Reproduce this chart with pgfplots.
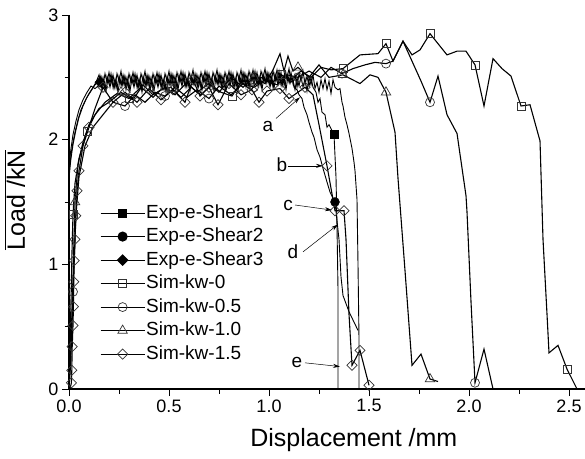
\documentclass[border=0pt]{standalone}
\usepackage{fontspec}
\setmainfont{Liberation Sans}
\usepackage{pgfplots}
\pgfplotsset{compat=1.18}
\usetikzlibrary{arrows.meta}

\tikzset{
  simline/.style={black, line width=1.1pt},
  expline/.style={black, line width=0.9pt},
  omark/.style={black!80, line width=0.7pt, solid, fill=white},
  fmark/.style={black, solid, fill=black},
  ann/.style={font=\fontsize{19}{22}\selectfont, inner sep=0pt},
  annarrow/.style={black, line width=0.5pt, -{Stealth[length=7pt,width=4pt]}},
}

\begin{document}
\begin{tikzpicture}
\begin{axis}[
  scale only axis,
  width=516pt, height=374pt,
  xmin=0, xmax=2.58, ymin=0, ymax=3,
  axis x line*=bottom, axis y line*=left,
  axis line style={line width=1.1pt},
  tick align=outside,
  major tick length=7pt, minor tick length=4.5pt,
  every tick/.style={black, line width=0.9pt},
  xtick={0,0.5,...,2.5}, minor x tick num=1,
  ytick={0,1,2,3}, minor y tick num=1,
  xticklabel style={/pgf/number format/fixed, /pgf/number format/fixed zerofill, /pgf/number format/precision=1},
  /pgf/number format/assume math mode=true,
  tick label style={font=\fontsize{18}{21}\selectfont},
  xlabel={Displacement /mm},
  ylabel={$\overline{\mbox{Load /kN}}$},
  label style={font=\fontsize{25}{29}\selectfont},
  xlabel style={at={(axis description cs:0.552,-0.136)}, anchor=center},
  ylabel style={at={(axis description cs:-0.105,0.505)}, anchor=center},
  clip=false,
  legend style={draw=none, fill=none, at={(0.054,0.503)}, anchor=north west,
    font=\fontsize{19}{22}\selectfont, row sep=3.5pt,
    nodes={inner sep=1pt, text height=14pt, text depth=4pt}},
  legend cell align=left,
  /tikz/every even column/.append style={column sep=5pt},
  legend image code/.code={\draw[mark repeat=2,mark phase=2] plot coordinates {(0pt,0pt) (22pt,0pt) (44pt,0pt)};},
]
\coordinate (sw) at (rel axis cs:0,0);

% ---- experiments (noisy records)
\addplot[expline, forget plot] coordinates {
(0,1.70) (0.005,1.80) (0.01,1.88) (0.02,1.98) (0.03,2.06) (0.045,2.16) (0.06,2.24) (0.08,2.31) (0.10,2.37) (0.12,2.42) (0.135,2.46)
(0.15,2.52) (0.16,2.43) (0.17,2.50) (0.18,2.40) (0.19,2.51) (0.20,2.45) (0.21,2.53) (0.22,2.42) (0.23,2.49) (0.24,2.41) (0.25,2.51) (0.26,2.44)
(0.27,2.52) (0.28,2.43) (0.29,2.50) (0.30,2.40) (0.31,2.51) (0.32,2.45) (0.33,2.53) (0.34,2.42) (0.35,2.49) (0.36,2.41) (0.37,2.51) (0.38,2.44)
(0.39,2.52) (0.40,2.43) (0.41,2.50) (0.42,2.40) (0.43,2.51) (0.44,2.45) (0.45,2.53) (0.46,2.42) (0.47,2.49) (0.48,2.41) (0.49,2.51) (0.50,2.44)
(0.51,2.53) (0.52,2.44) (0.53,2.51) (0.54,2.41) (0.55,2.52) (0.56,2.46) (0.57,2.54) (0.58,2.43) (0.59,2.50) (0.60,2.42) (0.61,2.52) (0.62,2.45)
(0.63,2.53) (0.64,2.44) (0.65,2.51) (0.66,2.41) (0.67,2.52) (0.68,2.46) (0.69,2.54) (0.70,2.43) (0.71,2.50) (0.72,2.42) (0.73,2.52) (0.74,2.45)
(0.75,2.53) (0.76,2.44) (0.77,2.51) (0.78,2.41) (0.79,2.52) (0.80,2.46) (0.81,2.54) (0.82,2.43) (0.83,2.50) (0.84,2.42) (0.85,2.52) (0.86,2.45)
(0.87,2.54) (0.88,2.45) (0.89,2.52) (0.90,2.42) (0.91,2.53) (0.92,2.47) (0.93,2.55) (0.94,2.44) (0.95,2.51) (0.96,2.43) (0.97,2.53) (0.98,2.46)
(0.99,2.54) (1.00,2.45) (1.01,2.52) (1.02,2.42) (1.03,2.53) (1.04,2.47) (1.05,2.55) (1.06,2.44) (1.07,2.51) (1.08,2.43) (1.09,2.53) (1.10,2.46)
(1.11,2.54) (1.12,2.45) (1.13,2.52) (1.14,2.42) (1.15,2.53) (1.16,2.47) (1.17,2.55) (1.18,2.44) (1.19,2.51) (1.20,2.43) (1.21,2.50) (1.22,2.42)
(1.235,2.38) (1.245,2.30) (1.255,2.33) (1.265,2.22) (1.28,2.20) (1.29,2.10) (1.30,2.12) (1.325,2.04) (1.335,1.7) (1.34,1.3) (1.345,0.8) (1.345,0)};
\addplot[expline, forget plot] coordinates {
(0,1.74) (0.005,1.86) (0.01,1.93) (0.02,2.04) (0.035,2.15) (0.05,2.24) (0.07,2.32) (0.09,2.38) (0.11,2.43) (0.13,2.41)
(0.145,2.43) (0.155,2.51) (0.165,2.40) (0.175,2.47) (0.185,2.39) (0.195,2.49) (0.205,2.42) (0.215,2.50) (0.225,2.41) (0.235,2.48) (0.245,2.38) (0.255,2.49)
(0.265,2.43) (0.275,2.51) (0.285,2.40) (0.295,2.47) (0.305,2.39) (0.315,2.49) (0.325,2.42) (0.335,2.50) (0.345,2.41) (0.355,2.48) (0.365,2.38) (0.375,2.49)
(0.385,2.43) (0.395,2.51) (0.405,2.40) (0.415,2.47) (0.425,2.39) (0.435,2.49) (0.445,2.42) (0.455,2.50) (0.465,2.41) (0.475,2.48) (0.485,2.38) (0.495,2.49)
(0.505,2.44) (0.515,2.52) (0.525,2.41) (0.535,2.48) (0.545,2.40) (0.555,2.50) (0.565,2.43) (0.575,2.51) (0.585,2.42) (0.595,2.49) (0.605,2.39) (0.615,2.50)
(0.625,2.44) (0.635,2.52) (0.645,2.41) (0.655,2.48) (0.665,2.40) (0.675,2.50) (0.685,2.43) (0.695,2.51) (0.705,2.42) (0.715,2.49) (0.725,2.39) (0.735,2.50)
(0.745,2.44) (0.755,2.52) (0.765,2.41) (0.775,2.48) (0.785,2.40) (0.795,2.50) (0.805,2.43) (0.815,2.51) (0.825,2.42) (0.835,2.49) (0.845,2.39) (0.855,2.50)
(0.865,2.45) (0.875,2.53) (0.885,2.42) (0.895,2.49) (0.905,2.41) (0.915,2.51) (0.925,2.44) (0.935,2.52) (0.945,2.43) (0.955,2.50) (0.965,2.40) (0.975,2.51)
(0.985,2.45) (0.995,2.53) (1.005,2.42) (1.015,2.49) (1.025,2.41) (1.035,2.51) (1.045,2.44) (1.055,2.52) (1.065,2.43) (1.075,2.50) (1.085,2.40) (1.095,2.51)
(1.105,2.45) (1.115,2.50) (1.125,2.42) (1.14,2.40) (1.15,2.36) (1.165,2.33) (1.175,2.26) (1.19,2.20) (1.2,2.14) (1.215,2.06) (1.225,2.02)
(1.24,1.92) (1.255,1.86) (1.27,1.77) (1.29,1.66) (1.305,1.58) (1.33,1.50) (1.35,1.2) (1.36,0.9) (1.37,0.75) (1.40,0.62) (1.43,0.52) (1.445,0.47)};
\addplot[expline, forget plot] coordinates {
(0,1.68) (0.005,1.78) (0.01,1.85) (0.02,1.96) (0.035,2.08) (0.05,2.18) (0.07,2.27) (0.09,2.34) (0.11,2.39) (0.13,2.44) (0.145,2.46)
(0.16,2.51) (0.17,2.43) (0.18,2.53) (0.19,2.46) (0.20,2.54) (0.21,2.45) (0.22,2.52) (0.23,2.42) (0.24,2.53) (0.25,2.47) (0.26,2.55) (0.27,2.44)
(0.28,2.51) (0.29,2.43) (0.30,2.53) (0.31,2.46) (0.32,2.54) (0.33,2.45) (0.34,2.52) (0.35,2.42) (0.36,2.53) (0.37,2.47) (0.38,2.55) (0.39,2.44)
(0.40,2.51) (0.41,2.43) (0.42,2.53) (0.43,2.46) (0.44,2.54) (0.45,2.45) (0.46,2.52) (0.47,2.42) (0.48,2.53) (0.49,2.47) (0.50,2.55) (0.51,2.44)
(0.52,2.52) (0.53,2.44) (0.54,2.54) (0.55,2.47) (0.56,2.55) (0.57,2.46) (0.58,2.53) (0.59,2.43) (0.60,2.54) (0.61,2.48) (0.62,2.56) (0.63,2.45)
(0.64,2.52) (0.65,2.44) (0.66,2.54) (0.67,2.47) (0.68,2.55) (0.69,2.46) (0.70,2.53) (0.71,2.43) (0.72,2.54) (0.73,2.48) (0.74,2.56) (0.75,2.45)
(0.76,2.52) (0.77,2.44) (0.78,2.54) (0.79,2.47) (0.80,2.55) (0.81,2.46) (0.82,2.53) (0.83,2.43) (0.84,2.54) (0.85,2.48) (0.86,2.56) (0.87,2.45)
(0.88,2.53) (0.89,2.45) (0.90,2.55) (0.91,2.48) (0.92,2.56) (0.93,2.47) (0.94,2.54) (0.95,2.44) (0.96,2.55) (0.97,2.49) (0.98,2.57) (0.99,2.46)
(1.00,2.53) (1.01,2.45) (1.02,2.55) (1.03,2.48) (1.04,2.56) (1.05,2.47) (1.06,2.54) (1.07,2.44) (1.08,2.55) (1.09,2.49) (1.10,2.57) (1.11,2.46)
(1.12,2.48) (1.13,2.40) (1.14,2.50) (1.15,2.43) (1.16,2.51) (1.17,2.42) (1.18,2.49) (1.19,2.39) (1.20,2.50) (1.21,2.44) (1.22,2.52) (1.23,2.41)
(1.24,2.46) (1.25,2.38) (1.26,2.48) (1.27,2.41) (1.28,2.49) (1.29,2.40) (1.30,2.47) (1.31,2.37) (1.32,2.48) (1.33,2.42)
(1.345,2.40) (1.355,2.41) (1.365,2.30) (1.37,2.27) (1.38,2.18) (1.39,2.12) (1.40,2.05) (1.415,1.93) (1.425,1.82) (1.43,1.75) (1.44,1.52) (1.445,1.0) (1.45,0.4) (1.45,0)};

% ---- simulations
\addplot[simline, forget plot] coordinates {
(0.0,0) (0.005,0.3) (0.01,0.7) (0.015,1.1) (0.02,1.4) (0.03,1.65) (0.05,1.85) (0.09,2.07) (0.13,2.2) (0.18,2.3)
(0.24,2.37) (0.30,2.33) (0.36,2.42) (0.42,2.34) (0.46,2.40) (0.51,2.42) (0.56,2.34) (0.61,2.42) (0.66,2.36) (0.71,2.44)
(0.76,2.38) (0.815,2.35) (0.86,2.46) (0.91,2.40) (0.96,2.50) (1.01,2.45) (1.06,2.52) (1.11,2.48) (1.16,2.55) (1.21,2.50)
(1.26,2.58) (1.31,2.56) (1.37,2.57) (1.455,2.68) (1.545,2.69) (1.585,2.77) (1.62,2.63) (1.67,2.79) (1.715,2.68) (1.755,2.72)
(1.805,2.85) (1.89,2.68) (1.94,2.71) (1.985,2.71) (2.03,2.60) (2.075,2.27) (2.12,2.65) (2.165,2.57) (2.21,2.51) (2.26,2.27)
(2.305,2.28) (2.355,1.99) (2.37,1.2) (2.39,0.6) (2.40,0.29) (2.445,0.35) (2.49,0.16) (2.54,0.0)};
\addplot[simline, forget plot] coordinates {
(0.0,0) (0.008,0.2) (0.015,0.5) (0.02,0.78) (0.028,1.1) (0.035,1.4) (0.05,1.7) (0.08,1.95) (0.12,2.1) (0.17,2.2)
(0.22,2.3) (0.28,2.27) (0.33,2.36) (0.38,2.30) (0.43,2.38) (0.48,2.35) (0.53,2.42) (0.59,2.34) (0.64,2.40) (0.70,2.33)
(0.75,2.43) (0.81,2.36) (0.87,2.45) (0.925,2.42) (0.98,2.48) (1.04,2.44) (1.09,2.52) (1.145,2.50) (1.2,2.55) (1.26,2.50)
(1.31,2.58) (1.365,2.53) (1.42,2.57) (1.48,2.60) (1.53,2.62) (1.585,2.61) (1.62,2.63) (1.67,2.79) (1.715,2.63) (1.76,2.47)
(1.805,2.30) (1.845,2.51) (1.89,2.20) (1.94,2.05) (1.985,1.55) (1.99,1.42) (2.01,0.7) (2.03,0.05) (2.075,0.32) (2.12,0.0)};
\addplot[simline, forget plot] coordinates {
(0.0,0) (0.01,0.35) (0.02,0.9) (0.03,1.5) (0.045,1.8) (0.07,1.98) (0.1,2.12) (0.15,2.25) (0.2,2.3) (0.26,2.38)
(0.32,2.32) (0.37,2.44) (0.42,2.36) (0.48,2.42) (0.53,2.36) (0.59,2.46) (0.64,2.38) (0.70,2.45) (0.75,2.38) (0.81,2.50)
(0.87,2.42) (0.925,2.50) (0.98,2.45) (1.02,2.56) (1.055,2.69) (1.075,2.55) (1.095,2.67) (1.12,2.55) (1.145,2.58) (1.2,2.50)
(1.25,2.60) (1.3,2.50) (1.37,2.52) (1.455,2.45) (1.505,2.52) (1.545,2.50) (1.585,2.38) (1.63,2.06) (1.645,1.69) (1.68,0.95)
(1.715,0.19) (1.76,0.28) (1.805,0.08) (1.845,0.06)};
\addplot[simline, forget plot] coordinates {
(0.005,0) (0.012,0.05) (0.014,0.15) (0.016,0.34) (0.02,0.51) (0.022,0.66) (0.024,0.86) (0.026,1.03) (0.03,1.2) (0.034,1.39)
(0.04,1.59) (0.05,1.75) (0.07,1.95) (0.1,2.1) (0.13,2.25) (0.17,2.42) (0.22,2.30) (0.28,2.38) (0.34,2.30) (0.40,2.41)
(0.46,2.32) (0.52,2.40) (0.58,2.30) (0.62,2.48) (0.655,2.35) (0.70,2.42) (0.745,2.28) (0.80,2.45) (0.86,2.36) (0.915,2.40)
(0.95,2.30) (0.99,2.39) (1.055,2.41) (1.10,2.33) (1.18,2.42) (1.22,2.36) (1.25,2.12) (1.29,1.79) (1.33,1.43) (1.375,1.43)
(1.385,1.2) (1.40,0.6) (1.415,0.19) (1.455,0.31) (1.50,0.03)};

% ---- markers
\addplot[only marks, mark=square*, mark size=4pt, mark options={fmark}, forget plot] coordinates {(1.325,2.04)};
\addplot[only marks, mark=*, mark size=4.5pt, mark options={fmark}, forget plot] coordinates {(1.33,1.50)};
\addplot[only marks, mark=square*, mark size=3.6pt, mark options={fmark, rotate=45}, forget plot] coordinates {(0.155,2.46)};
\addplot[only marks, mark=square, mark size=4pt, mark options={omark}, forget plot] coordinates {
(0.02,1.4) (0.09,2.07) (0.30,2.33) (0.51,2.42) (0.815,2.35) (1.06,2.52) (1.37,2.57) (1.585,2.77) (1.805,2.85) (2.03,2.60) (2.26,2.27) (2.49,0.16)};
\addplot[only marks, mark=o, mark size=4.5pt, mark options={omark}, forget plot] coordinates {
(0.02,0.78) (0.28,2.27) (0.48,2.35) (0.70,2.33) (0.925,2.42) (1.145,2.50) (1.365,2.53) (1.585,2.61) (1.805,2.30) (2.03,0.05)};
\addplot[only marks, mark=triangle, mark size=5.5pt, mark options={omark}, forget plot] coordinates {
(0.03,1.5) (0.26,2.38) (0.48,2.42) (0.70,2.45) (0.925,2.50) (1.145,2.58) (1.37,2.52) (1.585,2.38) (1.805,0.08)};
\addplot[only marks, mark=square, mark size=3.6pt, mark options={omark, rotate=45}, forget plot] coordinates {
(0.012,0.05) (0.014,0.15) (0.016,0.34) (0.02,0.51) (0.022,0.66) (0.024,0.86) (0.026,1.03) (0.03,1.2) (0.034,1.39)
(0.04,1.59) (0.05,1.75) (0.07,1.95) (0.1,2.1) (0.17,2.42) (0.22,2.30) (0.28,2.38) (0.34,2.30) (0.40,2.41)
(0.46,2.32) (0.52,2.40) (0.58,2.30) (0.62,2.48) (0.655,2.35) (0.70,2.42) (0.745,2.28) (0.80,2.45) (0.86,2.36) (0.915,2.40)
(0.95,2.30) (0.99,2.39) (1.055,2.41) (1.10,2.33) (1.18,2.42) (1.29,1.79) (1.33,1.43) (1.375,1.43) (1.415,0.19) (1.455,0.31) (1.50,0.03)};

% ---- legend
\addlegendimage{black, line width=1.1pt, mark=square*, mark size=4pt, mark options={fmark}}
\addlegendentry{Exp-e-Shear1}
\addlegendimage{black, line width=1.1pt, mark=*, mark size=4.5pt, mark options={fmark}}
\addlegendentry{Exp-e-Shear2}
\addlegendimage{black, line width=1.1pt, mark=square*, mark size=3.6pt, mark options={fmark, rotate=45}}
\addlegendentry{Exp-e-Shear3}
\addlegendimage{simline, mark=square, mark size=4pt, mark options={omark}}
\addlegendentry{Sim-kw-0}
\addlegendimage{simline, mark=o, mark size=4.5pt, mark options={omark}}
\addlegendentry{Sim-kw-0.5}
\addlegendimage{simline, mark=triangle, mark size=5.5pt, mark options={omark}}
\addlegendentry{Sim-kw-1.0}
\addlegendimage{simline, mark=square, mark size=3.6pt, mark options={omark, rotate=45}}
\addlegendentry{Sim-kw-1.5}

% ---- annotations a-e
\node[ann] at (axis cs:0.995,2.105) {a};
\draw[annarrow] (axis cs:1.035,2.17) -- (axis cs:1.155,2.34);
\node[ann] at (axis cs:1.065,1.80) {b};
\draw[annarrow] (axis cs:1.095,1.79) -- (axis cs:1.27,1.79);
\node[ann] at (axis cs:1.095,1.47) {c};
\draw[annarrow] (axis cs:1.13,1.476) -- (axis cs:1.315,1.435);
\node[ann] at (axis cs:1.12,1.10) {d};
\draw[annarrow] (axis cs:1.17,1.10) -- (axis cs:1.345,1.32);
\node[ann] at (axis cs:1.14,0.21) {e};
\draw[annarrow] (axis cs:1.18,0.21) -- (axis cs:1.355,0.18);
\end{axis}
\pgfresetboundingbox
\path[use as bounding box] ([shift={(-69pt,-69pt)}]sw) rectangle ([shift={(516pt,389pt)}]sw);
\end{tikzpicture}
\end{document}
